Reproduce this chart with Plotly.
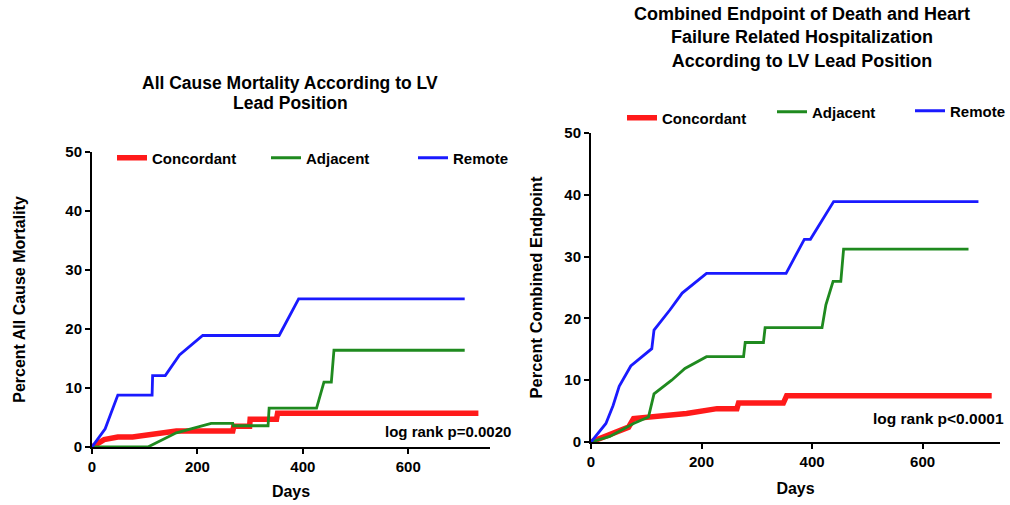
import plotly.graph_objects as go

# ---- Left panel: All cause mortality ----
mort_conc_days = [0, 23, 49, 77, 160, 267, 269, 299, 300, 350, 352, 733]
mort_conc_pct = [0, 1.25, 1.7, 1.7, 2.7, 2.7, 3.5, 3.5, 4.7, 4.7, 5.7, 5.7]
mort_adj_days = [0, 106, 160, 226, 267, 268, 334, 336, 426, 440, 454, 459, 707]
mort_adj_pct = [0, 0, 2.4, 4.0, 4.0, 3.6, 3.6, 6.6, 6.6, 11.0, 11.0, 16.4, 16.4]
mort_rem_days = [0, 25, 36, 49, 114, 115, 139, 166, 210, 355, 392, 707]
mort_rem_pct = [0, 3.1, 5.7, 8.8, 8.8, 12.1, 12.1, 15.6, 18.9, 18.9, 25.1, 25.1]

# ---- Right panel: combined endpoint ----
comb_conc_days = [0, 34, 68, 77, 104, 173, 228, 264, 267, 348, 354, 725]
comb_conc_pct = [0, 1.1, 2.4, 3.8, 4.05, 4.6, 5.4, 5.4, 6.3, 6.3, 7.5, 7.5]
comb_adj_days = [0, 34, 77, 104, 114, 146, 170, 209, 276, 279, 312, 315, 418, 425, 438, 452, 457, 683]
comb_adj_pct = [0, 0.9, 3.0, 4.05, 7.8, 10.0, 11.9, 13.8, 13.8, 16.1, 16.1, 18.5, 18.5, 22.2, 26.0, 26.0, 31.2, 31.2]
comb_rem_days = [0, 27, 40, 51, 72, 110, 114, 143, 165, 209, 353, 386, 397, 439, 701]
comb_rem_pct = [0, 3.0, 5.9, 9.0, 12.3, 15.1, 18.1, 21.4, 24.1, 27.3, 27.3, 32.8, 32.8, 38.9, 38.9]

group_names = ["Concordant", "Adjacent", "Remote"]
group_colors = ["#ff1a1a", "#1f8a1f", "#1a1aff"]
group_widths = [5.5, 2.8, 2.8]

y_ticks = [0, 10, 20, 30, 40, 50]
x_ticks = [0, 200, 400, 600]

FONT = "Arial, Liberation Sans, sans-serif"
W, H = 1010, 505

# legend item positions (swatch left edge, vertical centre), in pixels
left_legend_pos = [(117, 158), (271, 158), (418, 158)]
right_legend_pos = [(627, 118), (777, 112), (915, 111)]

fig = go.Figure()

left = [(mort_conc_days, mort_conc_pct), (mort_adj_days, mort_adj_pct), (mort_rem_days, mort_rem_pct)]
right = [(comb_conc_days, comb_conc_pct), (comb_adj_days, comb_adj_pct), (comb_rem_days, comb_rem_pct)]

legend_layouts = {}
n = 0
for panel, (data, xa, ya, poss) in enumerate([(left, "x", "y", left_legend_pos),
                                              (right, "x2", "y2", right_legend_pos)]):
    for i, (d, p) in enumerate(data):
        n += 1
        lname = "legend" if n == 1 else f"legend{n}"
        fig.add_trace(go.Scatter(x=d, y=p, mode="lines", name=group_names[i],
                                 line=dict(color=group_colors[i], width=group_widths[i]),
                                 xaxis=xa, yaxis=ya, legend=lname))
        px, py = poss[i]
        legend_layouts[lname] = dict(
            orientation="h", x=(px - 5) / W, xanchor="left", y=1 - py / H, yanchor="middle",
            bgcolor="rgba(0,0,0,0)", borderwidth=0,
            font=dict(family=FONT, size=15, color="black", weight="bold"))

axis_common = dict(showline=True, linecolor="black", linewidth=2, ticks="outside",
                   ticklen=5, tickwidth=2, tickcolor="black", showgrid=False,
                   zeroline=False, automargin=False,
                   tickfont=dict(family=FONT, size=15, color="black", weight="bold"))

fig.update_layout(
    width=W, height=H,
    margin=dict(l=0, r=0, t=0, b=0, autoexpand=False),
    paper_bgcolor="white", plot_bgcolor="white",
    font=dict(family=FONT, color="black"),
    xaxis=dict(domain=[92/W, 490/W], range=[0, 755], tickvals=x_ticks,
               anchor="y", **axis_common,
               title=dict(text="<b>Days</b>", font=dict(size=16), standoff=12)),
    yaxis=dict(domain=[1-447/H, 1-152/H], range=[0, 50], tickvals=y_ticks,
               anchor="x", **axis_common,
               title=dict(text="<b>Percent All Cause Mortality</b>", font=dict(size=16), standoff=36)),
    xaxis2=dict(domain=[591/W, 1000/W], range=[0, 740], tickvals=x_ticks,
                anchor="y2", **axis_common,
                title=dict(text="<b>Days</b>", font=dict(size=16), standoff=14)),
    yaxis2=dict(domain=[1-442/H, 1-133/H], range=[0, 50], tickvals=y_ticks,
                anchor="x2", **axis_common,
                title=dict(text="<b>Percent Combined Endpoint</b>", font=dict(size=16.5), standoff=18)),
    showlegend=True,
    **legend_layouts,
)

fig.add_annotation(text="<b>All Cause Mortality According to LV</b>",
                   xref="paper", yref="paper", x=290/W, y=1-83/H, xanchor="center", yanchor="middle",
                   showarrow=False, font=dict(family=FONT, size=17.5, color="black"))
fig.add_annotation(text="<b>Lead Position</b>",
                   xref="paper", yref="paper", x=290/W, y=1-103/H, xanchor="center", yanchor="middle",
                   showarrow=False, font=dict(family=FONT, size=17.5, color="black"))
fig.add_annotation(text="<b>Combined Endpoint of Death and Heart<br>Failure Related Hospitalization<br>According to LV Lead Position</b>",
                   xref="paper", yref="paper", x=802/W, y=1-38/H, xanchor="center", yanchor="middle",
                   showarrow=False, font=dict(family=FONT, size=18, color="black"))
fig.add_annotation(text="<b>log rank p=0.0020</b>", xref="paper", yref="paper",
                   x=383/W, y=1-431/H, xanchor="left", yanchor="middle",
                   showarrow=False, font=dict(family=FONT, size=15, color="black"))
fig.add_annotation(text="<b>log rank p<0.0001</b>", xref="paper", yref="paper",
                   x=1006/W, y=1-418/H, xanchor="right", yanchor="middle",
                   showarrow=False, font=dict(family=FONT, size=15.5, color="black"))

fig.write_html("out.html")
